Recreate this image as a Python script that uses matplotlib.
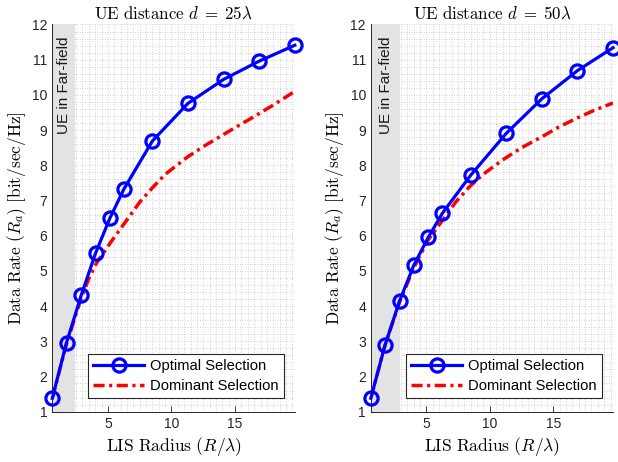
import numpy as np
import matplotlib
matplotlib.use("Agg")
import matplotlib.pyplot as plt

plt.rcParams['mathtext.fontset'] = 'cm'
plt.rcParams['font.family'] = ['Liberation Sans', 'DejaVu Sans']

# Data
radius = [0.63, 1.75, 2.9, 4.03, 5.15, 6.27, 8.5, 11.3, 14.1, 16.9, 19.7]

opt_25 = [1.38, 2.96, 4.30, 5.50, 6.49, 7.33, 8.69, 9.76, 10.44, 10.96, 11.41]
dom_25_x = [0.63, 1.75, 2.9, 3.5, 4.1, 4.6, 5.2, 5.9, 6.6, 7.5, 8.5, 9.5, 11.2, 12.5, 13.8, 15.0, 16.2, 18.0, 19.7]
dom_25 = [1.38, 2.93, 4.22, 4.78, 5.22, 5.48, 5.80, 6.15, 6.50, 6.95, 7.36, 7.74, 8.22, 8.53, 8.81, 9.07, 9.32, 9.71, 10.1]

opt_50 = [1.38, 2.89, 4.15, 5.17, 5.95, 6.64, 7.72, 8.91, 9.89, 10.69, 11.34]
dom_50_x = [0.63, 1.75, 2.9, 4.03, 4.6, 5.15, 6.3, 7.3, 8.4, 9.5, 11.0, 12.5, 14.1, 15.4, 16.8, 18.2, 19.7]
dom_50 = [1.38, 2.89, 4.12, 5.10, 5.50, 5.88, 6.45, 6.95, 7.39, 7.75, 8.15, 8.50, 8.81, 9.08, 9.33, 9.56, 9.77]

farfield_edge = [2.4, 2.96]
titles = [r'$\mathrm{UE\ distance\ }d\;=\;25\lambda$', r'$\mathrm{UE\ distance\ }d\;=\;50\lambda$']
opt_series = [opt_25, opt_50]
dom_series = [(dom_25_x, dom_25), (dom_50_x, dom_50)]

fig = plt.figure(figsize=(6.18, 4.62), dpi=100)
axes_pos = [[0.0846, 0.109, 0.3925, 0.838], [0.600, 0.109, 0.392, 0.838]]

for i in range(2):
    ax = fig.add_axes(axes_pos[i])
    ax.set_xlim(radius[0], radius[-1])
    ax.set_ylim(1, 12)
    ax.set_axisbelow(True)
    ax.set_xticks([5, 10, 15])
    ax.set_yticks(np.arange(1, 13, 1))
    ax.set_xticks(np.arange(1.0, 20.0, 0.5), minor=True)
    ax.set_yticks(np.arange(1, 12.01, 0.2), minor=True)
    ax.grid(which='both', linestyle=(0, (1, 2)), color='#c4c4c4', linewidth=0.6)
    ax.tick_params(which='major', direction='in', length=4, width=0.6, colors='#262626',
                   labelsize=10, labelcolor='#262626')
    ax.tick_params(which='minor', length=0)
    for s in ['top', 'right']:
        ax.spines[s].set_visible(False)
    for s in ['left', 'bottom']:
        ax.spines[s].set_color('#262626')
        ax.spines[s].set_linewidth(0.7)

    ax.axvspan(radius[0], farfield_edge[i], color='#e3e3e3', zorder=1, linewidth=0)
    ax.text((radius[0] + farfield_edge[i]) / 2 + 0.05, 11.65, 'UE in Far-field', rotation=90,
            ha='center', va='top', fontsize=11, color='#1a1a1a', zorder=2)

    ax.plot(radius, opt_series[i], color=(0, 0, 1), linewidth=2.3, marker='o', markersize=9.5,
            markerfacecolor='none', markeredgewidth=2.3, label='Optimal Selection', zorder=4,
            clip_on=False)
    ax.plot(dom_series[i][0], dom_series[i][1], color=(1, 0, 0), linewidth=2.5,
            linestyle=(0, (3.2, 1.3, 0.9, 1.3)), label='Dominant Selection', zorder=3)

    ax.set_title(titles[i], fontsize=12.2, pad=4)
    ax.set_xlabel(r'$\mathrm{LIS\ Radius\ }(R/\lambda)$', fontsize=12.6, labelpad=3)
    ax.set_ylabel(r'$\mathrm{Data\ Rate\ }(R_a)\ [\mathrm{bit/sec/Hz}]$', fontsize=12.5, labelpad=3)
    leg = ax.legend(loc='lower right', bbox_to_anchor=(0.955, 0.035), borderaxespad=0,
                    fontsize=10.6, handlelength=3.5, fancybox=False, framealpha=1,
                    edgecolor='#262626', borderpad=0.35, labelspacing=0.4, handletextpad=0.4)
    leg.get_frame().set_linewidth(0.8)
    leg.set_zorder(10)

fig.savefig('out.png', dpi=100)
